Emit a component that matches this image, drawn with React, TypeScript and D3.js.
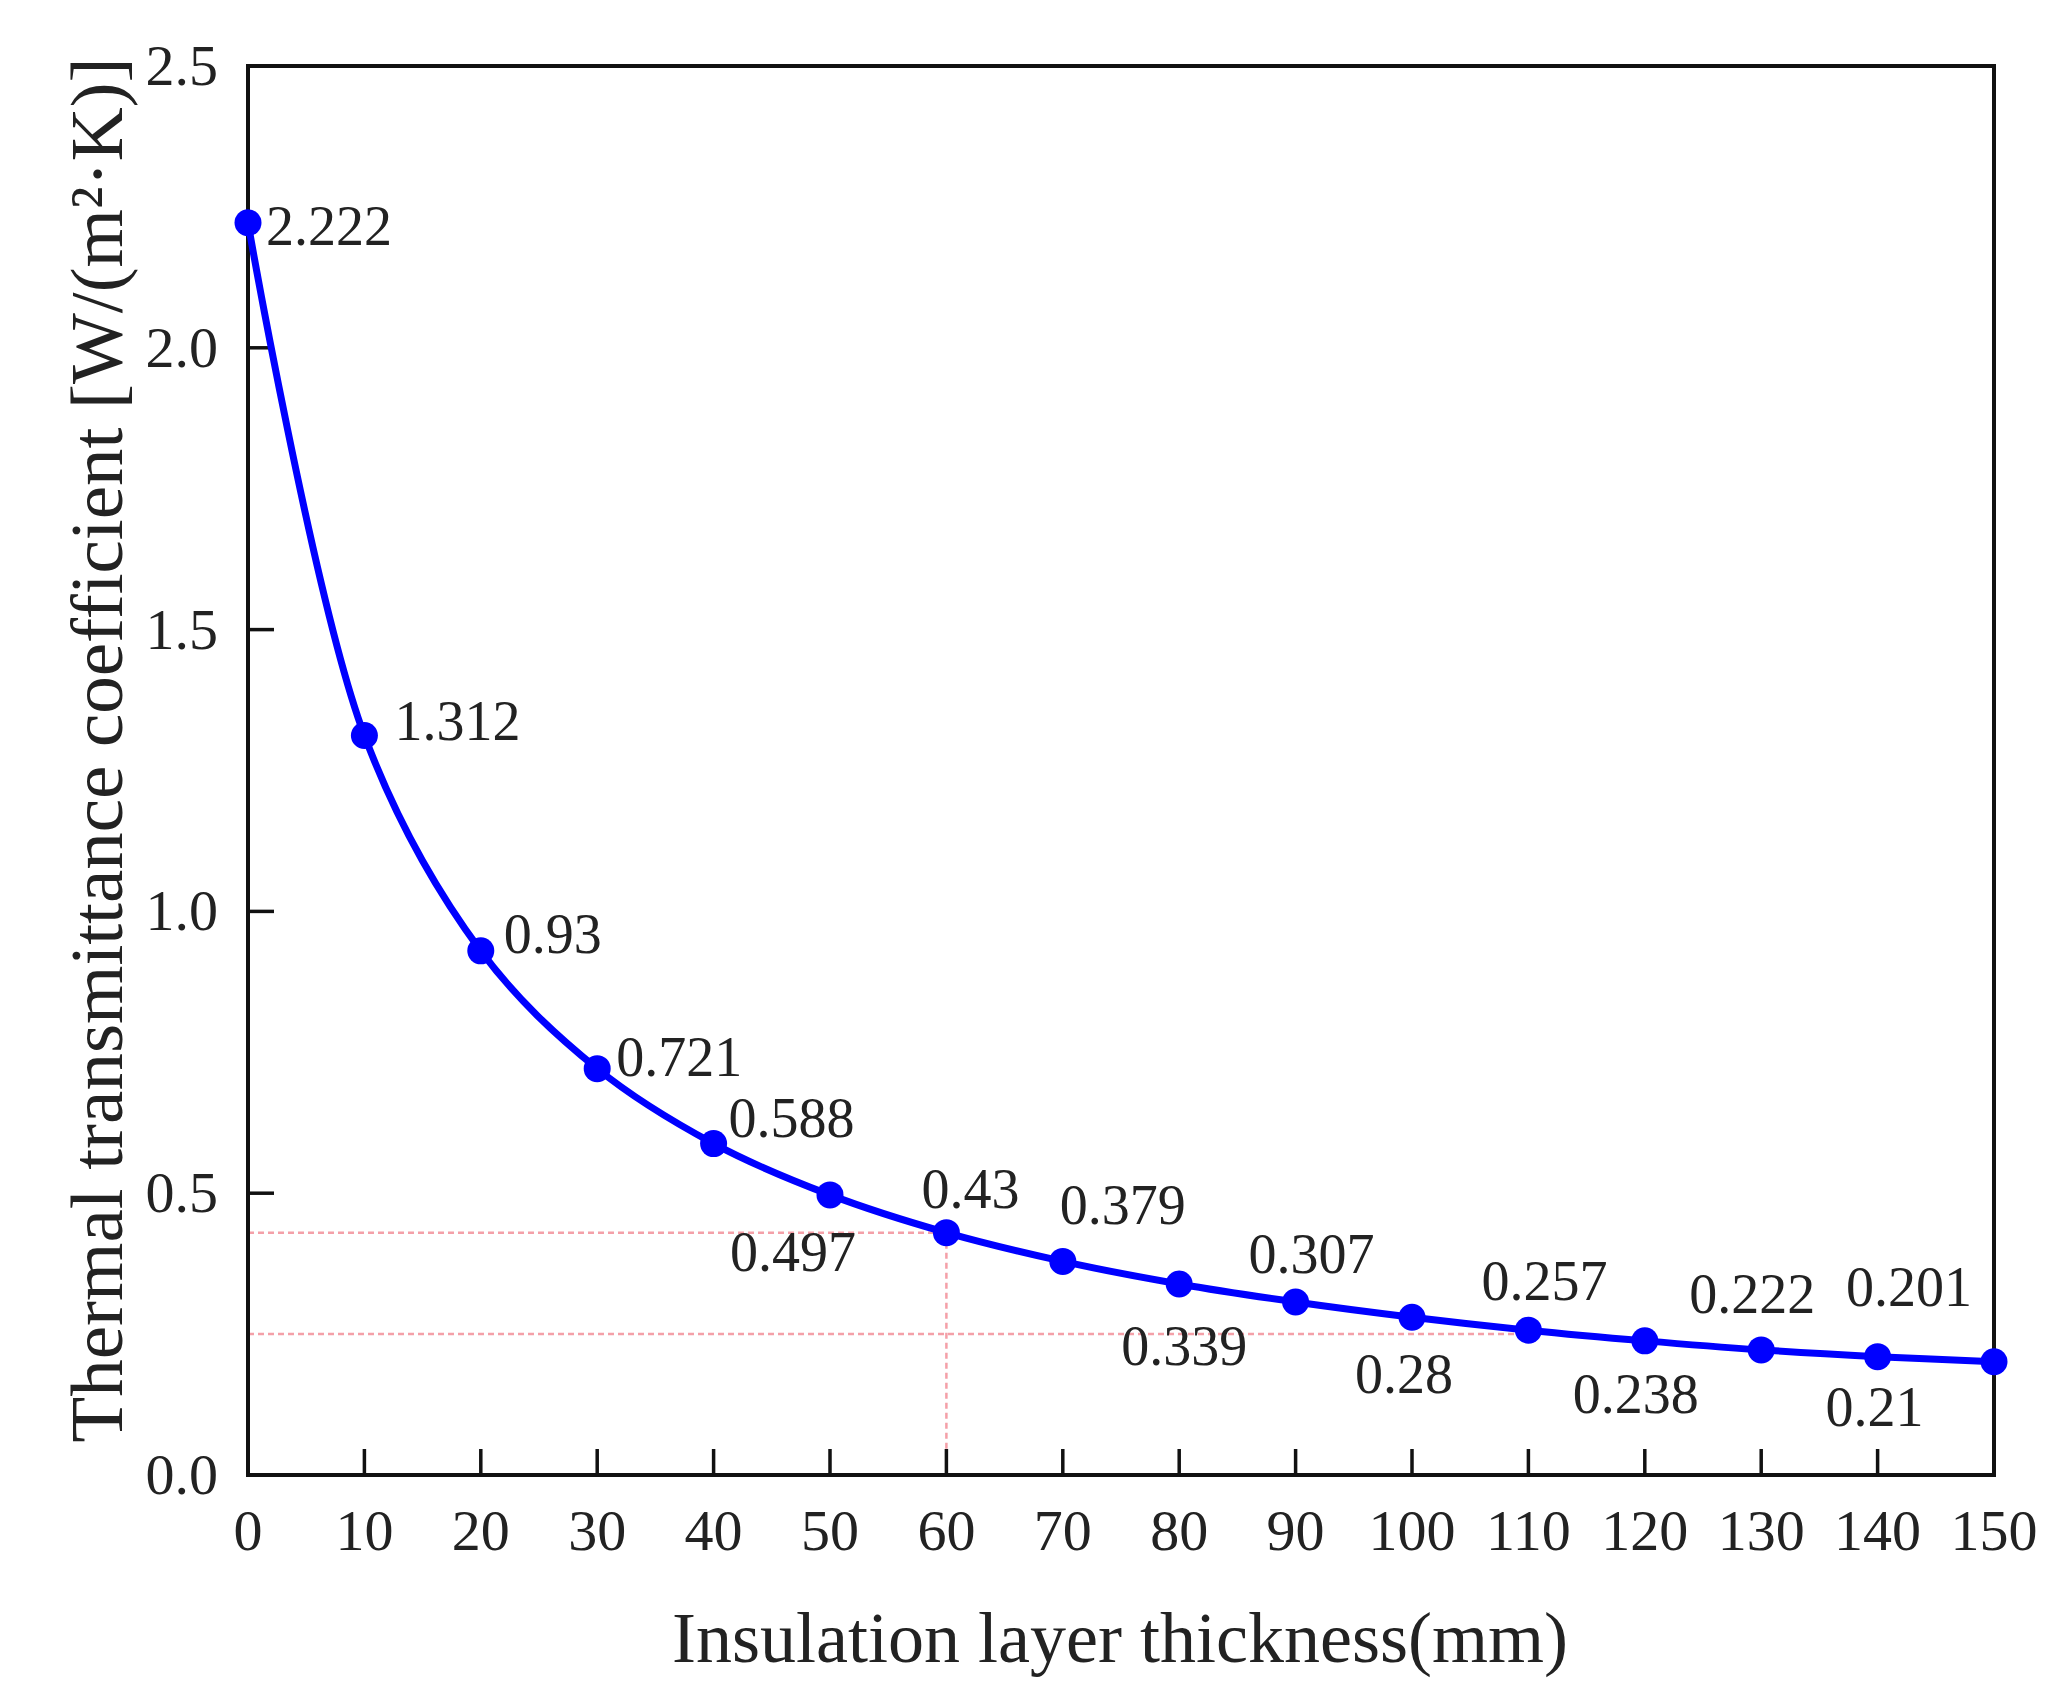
import { useEffect, useRef } from "react";
import * as d3 from "d3";

const thickness = [0, 10, 20, 30, 40, 50, 60, 70, 80, 90, 100, 110, 120, 130, 140, 150];
const uValues = [2.222, 1.312, 0.93, 0.721, 0.588, 0.497, 0.43, 0.379, 0.339, 0.307, 0.28, 0.257, 0.238, 0.222, 0.21, 0.201];
const labelText = ["2.222", "1.312", "0.93", "0.721", "0.588", "0.497", "0.43", "0.379", "0.339", "0.307", "0.28", "0.257", "0.238", "0.222", "0.21", "0.201"];
const xTicks = [0, 10, 20, 30, 40, 50, 60, 70, 80, 90, 100, 110, 120, 130, 140, 150];
const yTicks = [0, 0.5, 1.0, 1.5, 2.0, 2.5];

// reference lines
const refA = { x: 60, y: 0.43 };
const refB = { xEnd: 110, y: 0.25 };

// label placement (pixel offsets from each point, centre of text)
const labelOffsets: [number, number][] = [
  [81, 3], [93, -15], [72, -17], [82, -12], [78, -26], [-37, 57], [24, -44], [60, -56],
  [5, 62], [16, -48], [-8, 57], [16, -49], [-9, 53], [-9, -56], [-3, 50], [-85, -75],
];

export default function App() {
  const ref = useRef<SVGSVGElement>(null);

  useEffect(() => {
    if (!ref.current) return;
    document.body.style.margin = "0";
    const svg = d3.select(ref.current);
    svg.selectAll("*").remove();

    const font = "'Liberation Serif', 'Times New Roman', serif";
    const ink = "#222";
    const left = 248, right = 1994, top = 66, bottom = 1475;

    const x = d3.scaleLinear().domain([0, 150]).range([left, right]);
    const y = d3.scaleLinear().domain([0, 2.5]).range([bottom, top]);

    svg.append("rect").attr("width", 2067).attr("height", 1701).attr("fill", "white");

    // red dashed guides
    const guide = svg.append("g")
      .attr("stroke", "#f4a0a8")
      .attr("stroke-width", 2.5)
      .attr("stroke-dasharray", "6,4")
      .attr("fill", "none");
    guide.append("line").attr("x1", x(0)).attr("x2", x(refA.x)).attr("y1", y(refA.y)).attr("y2", y(refA.y));
    guide.append("line").attr("x1", x(refA.x)).attr("x2", x(refA.x)).attr("y1", y(refA.y)).attr("y2", y(0));
    guide.append("line").attr("x1", x(0)).attr("x2", x(refB.xEnd)).attr("y1", y(refB.y)).attr("y2", y(refB.y));

    // ticks (inward)
    const tickLen = 26;
    svg.append("g").selectAll("line").data(xTicks).join("line")
      .attr("x1", (d) => x(d)).attr("x2", (d) => x(d))
      .attr("y1", bottom).attr("y2", bottom - tickLen)
      .attr("stroke", "#111").attr("stroke-width", 3.5);
    svg.append("g").selectAll("line").data(yTicks).join("line")
      .attr("x1", left).attr("x2", left + tickLen)
      .attr("y1", (d) => y(d)).attr("y2", (d) => y(d))
      .attr("stroke", "#111").attr("stroke-width", 3.5);

    // frame
    svg.append("rect")
      .attr("x", left).attr("y", top)
      .attr("width", right - left).attr("height", bottom - top)
      .attr("fill", "none").attr("stroke", "#111").attr("stroke-width", 4);

    // tick labels
    svg.append("g").selectAll("text").data(xTicks).join("text")
      .attr("x", (d) => x(d)).attr("y", 1550)
      .attr("text-anchor", "middle")
      .style("font-family", font).style("font-size", "58px").style("fill", ink)
      .text((d) => String(d));
    svg.append("g").selectAll("text").data(yTicks).join("text")
      .attr("x", 218).attr("y", (d) => y(d) + 19)
      .attr("text-anchor", "end")
      .style("font-family", font).style("font-size", "58px").style("fill", ink)
      .text((d) => d.toFixed(1));

    // axis titles
    svg.append("text")
      .attr("x", 1120).attr("y", 1662)
      .attr("text-anchor", "middle")
      .style("font-family", font).style("font-size", "72px").style("fill", ink)
      .text("Insulation layer thickness(mm)");

    svg.append("text")
      .attr("transform", "translate(122,750) rotate(-90)")
      .attr("text-anchor", "middle")
      .style("font-family", font).style("font-size", "75px").style("fill", ink)
      .text("Thermal transmittance coefficient [W/(m²·K)]");

    const pts = thickness.map((t, i) => ({ t, v: uValues[i], label: labelText[i], off: labelOffsets[i] }));

    const line = d3.line<{ t: number; v: number }>()
      .x((d) => x(d.t)).y((d) => y(d.v))
      .curve(d3.curveCatmullRom.alpha(0.5));

    svg.append("path").datum(pts).attr("d", line)
      .attr("fill", "none").attr("stroke", "#0000ff").attr("stroke-width", 7);

    svg.append("g").selectAll("circle").data(pts).join("circle")
      .attr("cx", (d) => x(d.t)).attr("cy", (d) => y(d.v)).attr("r", 13.5)
      .attr("fill", "#0000ff");

    svg.append("g").selectAll("text").data(pts).join("text")
      .attr("x", (d) => x(d.t) + d.off[0])
      .attr("y", (d) => y(d.v) + d.off[1] + 19)
      .attr("text-anchor", "middle")
      .style("font-family", font).style("font-size", "56px").style("fill", ink)
      .text((d) => d.label);
  }, []);

  return <svg ref={ref} width={2067} height={1701} style={{ display: "block" }} />;
}
